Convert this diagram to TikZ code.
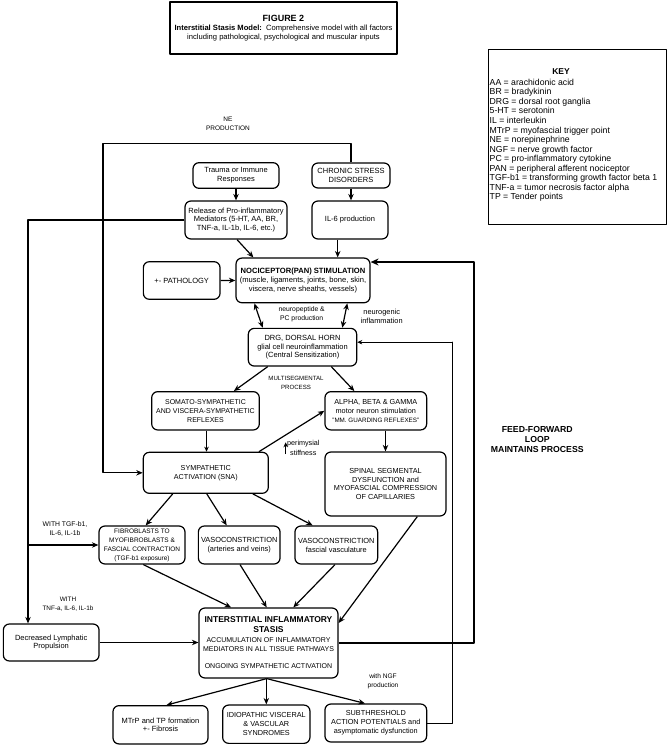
\documentclass[tikz,border=0pt]{standalone}
\usepackage{fontspec}
\setmainfont{Liberation Sans}
\usetikzlibrary{arrows.meta,positioning}
\newcommand\fs[2]{\fontsize{#1}{#2}\selectfont}

\begin{document}
\begin{tikzpicture}[x=1pt,y=-1pt,line join=round,
  box/.style={draw,rounded corners=6pt,line width=1.2pt,align=center,inner sep=1pt},
  txt/.style={font=\fs{7.5}{8.8}},
  lbl/.style={align=center,inner sep=0pt},
  arr/.style={-{Stealth[length=6.5pt,width=5.5pt]},line width=1.2pt},
  darr/.style={{Stealth[length=6.5pt,width=5.5pt]}-{Stealth[length=6.5pt,width=5.5pt]},line width=1.2pt},
  thinarr/.style={-{Stealth[length=5pt,width=4.5pt]},line width=0.7pt},
  ffarr/.style={-{Stealth[length=8pt,width=7pt]},line width=2.2pt}]
\useasboundingbox (0,0) rectangle (669,746);

% title and key
\node[draw,line width=1.4pt,align=center,minimum width=227pt,minimum height=52pt,font=\fs{7.6}{8.7}] (fig) at (283.5,28)
  {{\fs{9}{9.5}\bfseries FIGURE 2}\\[0.8pt]\textbf{Interstitial Stasis Model:}\ \ Comprehensive model with all factors\\including pathological, psychological and muscular inputs};
\node[draw,line width=1pt,minimum width=178pt,minimum height=174.5pt] (keybox) at (577,137.25) {};
\node[anchor=base,inner sep=0pt,font=\fs{8.5}{9}\bfseries] (keytitle) at (561,74.8) {KEY};
\foreach \k [count=\i] in {AA = arachidonic acid,BR = bradykinin,DRG = dorsal root ganglia,5-HT = serotonin,
  IL = interleukin,MTrP = myofascial trigger point,NE = norepinephrine,NGF = nerve growth factor,
  PC = pro-inflammatory cytokine,PAN = peripheral afferent nociceptor,TGF-b1 = transforming growth factor beta 1,
  TNF-a = tumor necrosis factor alpha,TP = Tender points}
  \node[anchor=base west,inner sep=0pt,font=\fs{8.7}{9.5}] (key\i) at ({489.5},{75.87+9.53*\i}) {\k};

% boxes
\node[box,txt,minimum width=86pt,minimum height=25.6pt] (trauma) at (236,175.5) {Trauma or Immune\\Responses};
\node[box,txt,minimum width=78pt,minimum height=25pt] (chronic) at (351,175.5) {CHRONIC STRESS\\DISORDERS};
\node[box,txt,minimum width=102pt,minimum height=38pt] (release) at (236,220) {Release of Pro-inflammatory\\Mediators (5-HT, AA, BR,\\TNF-a, IL-1b, IL-6, etc.)};
\node[box,txt,minimum width=76pt,minimum height=38pt] (il6) at (350,220) {IL-6 production};
\node[box,font=\fs{7.6}{9},minimum width=134pt,minimum height=44.7pt] (noci) at (303,280.4)
  {\textbf{NOCICEPTOR(PAN) STIMULATION}\\(muscle, ligaments, joints, bone, skin,\\viscera, nerve sheaths, vessels)};
\node[box,txt,minimum width=76.7pt,minimum height=37.6pt] (patho) at (181.7,280.5) {+- PATHOLOGY};
\node[box,txt,minimum width=108.4pt,minimum height=37.7pt] (drg) at (302.5,347.2) {DRG, DORSAL HORN\\glial cell neuroinflammation\\(Central Sensitization)};
\node[box,font=\fs{7}{9},minimum width=107.6pt,minimum height=38.3pt] (somato) at (205.5,410.8) {SOMATO-SYMPATHETIC\\AND VISCERA-SYMPATHETIC\\REFLEXES};
\node[box,font=\fs{7.3}{9.2},minimum width=101.7pt,minimum height=38.3pt] (alpha) at (375.8,410.8)
  {ALPHA, BETA \& GAMMA\\motor neuron stimulation\\{\fs{6.3}{9.2}"MM. GUARDING REFLEXES"}};
\node[box,font=\fs{7.2}{9},minimum width=125pt,minimum height=41pt] (sna) at (205.8,472.8) {SYMPATHETIC\\ACTIVATION (SNA)};
\node[box,font=\fs{7.3}{8.9},minimum width=121pt,minimum height=64pt] (spinal) at (385.5,484) {SPINAL SEGMENTAL\\DYSFUNCTION and\\MYOFASCIAL COMPRESSION\\OF CAPILLARIES};
\node[box,font=\fs{6.5}{9},minimum width=86pt,minimum height=38pt] (fibro) at (142,545) {FIBROBLASTS TO\\MYOFIBROBLASTS \&\\FASCIAL CONTRACTION\\(TGF-b1 exposure)};
\node[box,font=\fs{7.4}{9},minimum width=81.7pt,minimum height=38pt] (vaso1) at (239.2,545) {VASOCONSTRICTION\\(arteries and veins)};
\node[box,font=\fs{7.4}{9},minimum width=82.7pt,minimum height=38pt] (vaso2) at (336.3,545) {VASOCONSTRICTION\\fascial vasculature};
\node[box,txt,minimum width=95.7pt,minimum height=37pt] (lymph) at (51.2,642.5) {Decreased Lymphatic\\Propulsion};
\node[box,font=\fs{7}{9.3},minimum width=139pt,minimum height=70pt] (inter) at (268.5,643)
  {{\fs{8.5}{10}\bfseries INTERSTITIAL INFLAMMATORY}\\[0.7pt]{\fs{8.5}{10}\bfseries STASIS}\\ACCUMULATION OF INFLAMMATORY\\MEDIATORS IN ALL TISSUE PATHWAYS\\[8pt]ONGOING SYMPATHETIC ACTIVATION};
\node[box,txt,minimum width=95pt,minimum height=38.3pt] (mtrp) at (160.5,724.8) {MTrP and TP formation\\+- Fibrosis};
\node[box,font=\fs{7.3}{9},minimum width=87.3pt,minimum height=38.3pt] (idio) at (266.3,724.2) {IDIOPATHIC VISCERAL\\\& VASCULAR\\SYNDROMES};
\node[box,font=\fs{7.3}{9},minimum width=101.7pt,minimum height=38pt] (sub) at (375.8,723) {SUBTHRESHOLD\\ACTION POTENTIALS and\\asymptomatic dysfunction};

% side labels
\node[lbl,font=\fs{6.5}{9}] (neprod) at (228,123.5) {NE\\PRODUCTION};
\node[lbl,font=\fs{6.8}{9}] (neuropep) at (301.7,313.8) {neuropeptide \&\\PC production};
\node[lbl,font=\fs{7.4}{9}] (neurogen) at (381.7,316.2) {neurogenic\\inflammation};
\node[lbl,font=\fs{6.1}{8.7}] (multi) at (296,382.7) {MULTISEGMENTAL\\PROCESS};
\node[lbl,font=\fs{7.2}{9.4}] (peri) at (303.3,448) {perimysial\\stiffness};
\node[lbl,font=\fs{6.8}{9.3}] (tgfnote) at (65,528.7) {WITH TGF-b1,\\IL-6, IL-1b};
\node[lbl,font=\fs{6.4}{9.5}] (tnfnote) at (68,604.3) {WITH\\TNF-a, IL-6, IL-1b};
\node[lbl,font=\fs{6.6}{9}] (ngfnote) at (383,681.5) {with NGF\\production};
\node[lbl,font=\fs{8.7}{10.3}\bfseries] (ffnote) at (537.3,439.7) {FEED-FORWARD\\LOOP\\MAINTAINS PROCESS};

\coordinate (ne) at (103,143.3);
\coordinate (tap) at (28,545);
\coordinate (pa) at (285.7,454);
\coordinate (pb) at (285.7,442.3);
\coordinate (ff) at (474,262);
\coordinate (fb) at (452.7,342);

% connectors
\draw[arr] (trauma) -- (release);
\draw[arr] (chronic.south) -- (chronic.south |- il6.north);
\draw[arr] ([xshift=1pt]release.south) -- ([xshift=18pt]noci.north west);
\draw[arr] ([xshift=-12.3pt]il6.south) -- ([xshift=-12.3pt]il6.south |- noci.north);
\draw[arr] (patho) -- (noci);
\draw[arr] (chronic.north) |- (ne) |- (sna.west);
\draw[arr] (release.west) -| ([xshift=-23.2pt]lymph.north);
\draw[arr] (tap) -- (fibro.west);
\draw[darr] ([xshift=19pt]noci.south west) -- ([xshift=15pt]drg.north west);
\draw[darr] ([xshift=-23.3pt]noci.south east) -- ([xshift=-15pt]drg.north east);
\draw[arr] ([xshift=20pt]drg.south west) -- ([xshift=-26pt]somato.north east);
\draw[arr] ([xshift=-26pt]drg.south east) -- ([xshift=30pt]alpha.north west);
\draw[thinarr] ([xshift=1pt]somato.south) -- ([xshift=1pt]somato.south |- sna.north);
\draw[arr] ([xshift=-10pt]sna.north east) -- (alpha.west);
\draw[arr] (spinal.north |- alpha.south) -- (spinal.north);
\draw[thinarr] (pa) -- (pb);
\draw[arr] ([xshift=30pt]sna.south west) -- ([xshift=3.7pt]fibro.north);
\draw[arr] ([xshift=1pt]sna.south) -- ([xshift=-12.5pt]vaso1.north);
\draw[arr] ([xshift=-16pt]sna.south east) -- ([xshift=18.3pt]vaso2.north west);
\draw[arr] ([xshift=1.3pt]fibro.south) -- ([xshift=32.7pt]inter.north west);
\draw[arr] ([xshift=0.8pt]vaso1.south) -- ([xshift=-1.8pt]inter.north);
\draw[arr] ([xshift=-1.3pt]vaso2.south) -- ([xshift=24.8pt]inter.north);
\draw[arr] ([xshift=31.8pt]spinal.south) -- ([yshift=20pt]inter.east);
\draw[arr] (lymph.east) -- (lymph.east -| inter.west);
\draw[ffarr] (inter.east) -| (ff) |- ([yshift=18.4pt]noci.east);
\draw[arr] ([xshift=-1.8pt]inter.south) -- ([xshift=6pt]mtrp.north);
\draw[arr] (idio.north |- inter.south) -- (idio.north);
\draw[arr] ([xshift=-1.8pt]inter.south) -- ([xshift=-10.8pt]sub.north);
\draw[thinarr] (sub.east) -| (fb) |- ([yshift=5pt]drg.east);
\end{tikzpicture}
\end{document}
